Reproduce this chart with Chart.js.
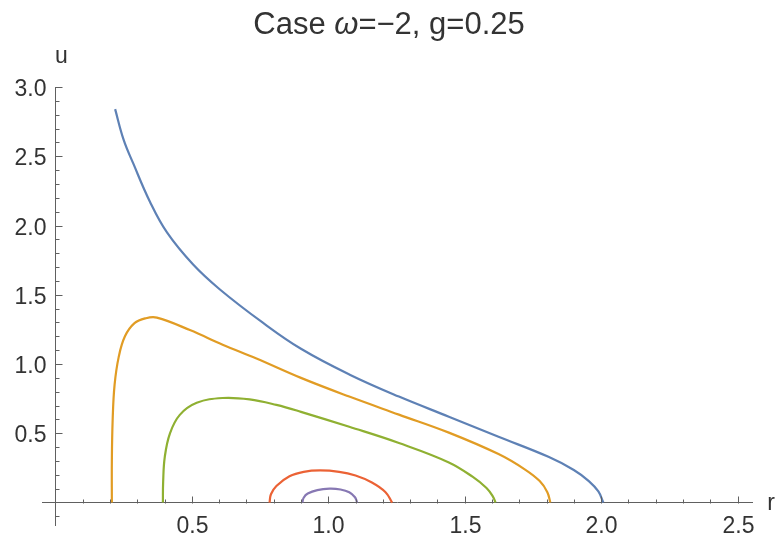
<!DOCTYPE html>
<html>
<head>
<meta charset="utf-8">
<script src="https://cdn.jsdelivr.net/npm/chart.js@4.4.0/dist/chart.umd.min.js"></script>
<style>
body{margin:0;background:#fff}
#wrap{position:relative;width:779px;height:539px}
</style>
</head>
<body>
<div id="wrap"><canvas id="chart"></canvas></div>
<script>
// contour samples, r along x and u along y
var blueR = [0.219, 0.25, 0.285, 0.347, 0.409, 0.504, 0.602, 0.759, 0.90, 1.077, 1.259, 1.442, 1.624, 1.807, 1.90, 1.955, 1.99, 2.008]
var blueU = [2.84, 2.62, 2.45, 2.17, 1.95, 1.72, 1.54, 1.30, 1.11, 0.925, 0.765, 0.62, 0.475, 0.33, 0.235, 0.155, 0.08, 0]
var orangeR = [0.207, 0.207, 0.210, 0.217, 0.232, 0.255, 0.29, 0.33, 0.372, 0.493, 0.613, 0.737, 0.90, 1.077, 1.259, 1.442, 1.624, 1.72, 1.775, 1.803, 1.814]
var orangeU = [0, 0.3, 0.6, 0.85, 1.05, 1.2, 1.295, 1.33, 1.335, 1.245, 1.14, 1.04, 0.90, 0.765, 0.635, 0.505, 0.35, 0.24, 0.155, 0.075, 0]
var greenR = [0.394, 0.395, 0.401, 0.42, 0.456, 0.518, 0.613, 0.712, 0.81, 0.90, 1.077, 1.259, 1.442, 1.53, 1.58, 1.603, 1.613]
var greenU = [0, 0.15, 0.33, 0.50, 0.633, 0.72, 0.755, 0.745, 0.705, 0.655, 0.547, 0.43, 0.29, 0.185, 0.105, 0.045, 0]
var redR = [0.785, 0.79, 0.81, 0.858, 0.91, 0.97, 1.04, 1.10, 1.16, 1.21, 1.234]
var redU = [0, 0.06, 0.12, 0.19, 0.222, 0.232, 0.222, 0.195, 0.145, 0.075, 0]
var purpleR = [0.905, 0.91, 0.925, 0.96, 1.005, 1.045, 1.077, 1.098, 1.106]
var purpleU = [0, 0.035, 0.065, 0.09, 0.10, 0.094, 0.074, 0.038, 0]

var xTickLabels = [0.5, 1.0, 1.5, 2.0, 2.5]
var yTickLabels = [0.5, 1.0, 1.5, 2.0, 2.5, 3.0]
var curveColors = ['#5E81B5', '#E19C24', '#8FB032', '#EB6235', '#8778B3']
var axisColor = '#606060'
var textColor = '#333'
var fontFamily = '"Liberation Sans", Arial, sans-serif'

function pts(rs, us){
    return rs.map(function(r, i){ return {x: r, y: us[i]} })
}
function labelFor(list, value){
    for(var i = 0; i < list.length; i++){
        if(Math.abs(list[i] - value) < 1e-6) return list[i].toFixed(1)
    }
    return ''
}
function onTenth(v){ return Math.abs(v * 10 - Math.round(v * 10)) < 1e-6 && Math.abs(v) > 1e-6 }
function onHalf(v){ return Math.abs(v * 2 - Math.round(v * 2)) < 1e-6 }

// mathematica style inward ticks, tick labels, title and axis names
var mmaDecor = {
    id: 'mmaDecor',
    afterDraw: function(chart){
        var ctx = chart.ctx
        var xs = chart.scales.x, ys = chart.scales.y
        var x0 = Math.round(xs.getPixelForValue(0)) + 0.5
        var y0 = Math.round(ys.getPixelForValue(0)) + 0.5
        ctx.save()
        ctx.strokeStyle = axisColor
        ctx.lineWidth = 1
        ctx.fillStyle = textColor
        ctx.font = '23px ' + fontFamily
        xs.ticks.forEach(function(t){
            var v = t.value
            if(!onTenth(v)) return
            var px = Math.round(xs.getPixelForValue(v)) + 0.5
            ctx.beginPath(); ctx.moveTo(px, y0); ctx.lineTo(px, y0 - (onHalf(v) ? 7 : 4)); ctx.stroke()
            var txt = labelFor(xTickLabels, v)
            if(txt){
                ctx.textAlign = 'center'; ctx.textBaseline = 'alphabetic'
                ctx.fillText(txt, px, 533)
            }
        })
        ys.ticks.forEach(function(t){
            var v = t.value
            if(!onTenth(v)) return
            var py = Math.round(ys.getPixelForValue(v)) + 0.5
            ctx.beginPath(); ctx.moveTo(x0, py); ctx.lineTo(x0 + (onHalf(v) ? 7 : 4), py); ctx.stroke()
            var txt = labelFor(yTickLabels, v)
            if(txt){
                ctx.textAlign = 'right'; ctx.textBaseline = 'alphabetic'
                ctx.fillText(txt, x0 - 9, py + 8.5)
            }
        })

        ctx.textBaseline = 'alphabetic'
        ctx.textAlign = 'left'
        var parts = [['Case ', ''], ['\u03c9', 'italic '], ['=\u22122, g=0.25', '']]
        var total = 0
        parts.forEach(function(p){
            ctx.font = p[1] + '31px ' + fontFamily
            total += ctx.measureText(p[0]).width
        })
        var tx = 389 - total / 2
        parts.forEach(function(p){
            ctx.font = p[1] + '31px ' + fontFamily
            ctx.fillText(p[0], tx, 34)
            tx += ctx.measureText(p[0]).width
        })

        ctx.font = '23px ' + fontFamily
        ctx.textAlign = 'center'
        ctx.fillText('u', x0 + 6, 63)
        ctx.fillText('r', 771, 510)
        ctx.restore()
    }
}

function lineSet(rs, us, color){
    return {
        data: pts(rs, us),
        borderColor: color,
        borderWidth: 2.2,
        pointRadius: 0,
        fill: false,
        tension: 0.4,
        showLine: true
    }
}

new Chart(document.getElementById('chart'), {
    type: 'scatter',
    data: {
        datasets: [
            lineSet(blueR, blueU, curveColors[0]),
            lineSet(orangeR, orangeU, curveColors[1]),
            lineSet(greenR, greenU, curveColors[2]),
            lineSet(redR, redU, curveColors[3]),
            lineSet(purpleR, purpleU, curveColors[4])
        ]
    },
    options: {
        responsive: true,
        maintainAspectRatio: false,
        animation: false,
        events: [],
        layout: {padding: {left: 42, right: 27, top: 87, bottom: 14}},
        plugins: {legend: {display: false}, tooltip: {enabled: false}, title: {display: false}},
        scales: {
            x: {
                type: 'linear',
                position: {y: 0},
                min: -0.049, max: 2.553,
                grid: {display: false, drawTicks: false},
                border: {display: true, color: axisColor, width: 1},
                ticks: {display: false, stepSize: 0.1, autoSkip: false, includeBounds: false}
            },
            y: {
                type: 'linear',
                position: {x: 0},
                min: -0.162, max: 3.0,
                grid: {display: false, drawTicks: false},
                border: {display: true, color: axisColor, width: 1},
                ticks: {display: false, stepSize: 0.1, autoSkip: false, includeBounds: false}
            }
        }
    },
    plugins: [mmaDecor]
})
</script>
</body>
</html>
